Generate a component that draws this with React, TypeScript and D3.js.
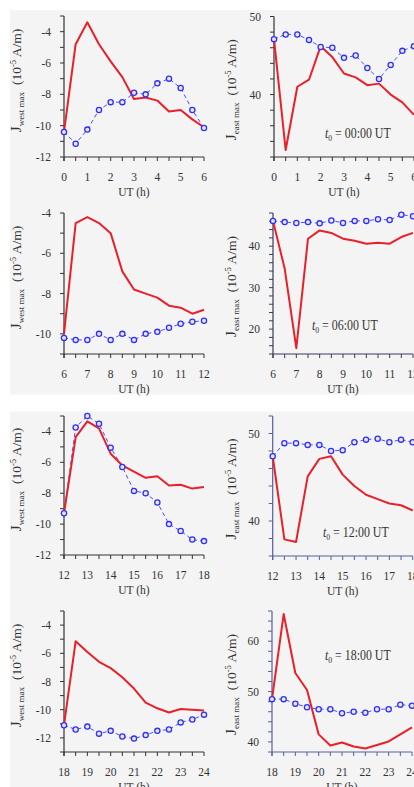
import React from "react";
import * as d3 from "d3";

// ---------- data ----------
const hours00 = [0, 0.5, 1, 1.5, 2, 2.5, 3, 3.5, 4, 4.5, 5, 5.5, 6];
const hours06 = [6, 6.5, 7, 7.5, 8, 8.5, 9, 9.5, 10, 10.5, 11, 11.5, 12];
const hours12 = [12, 12.5, 13, 13.5, 14, 14.5, 15, 15.5, 16, 16.5, 17, 17.5, 18];
const hours18 = [18, 18.5, 19, 19.5, 20, 20.5, 21, 21.5, 22, 22.5, 23, 23.5, 24];

const westRed00 = [-10.4, -4.8, -3.4, -4.8, -5.9, -6.9, -8.3, -8.2, -8.4, -9.1, -9.0, -9.6, -10.1];
const westBlue00 = [-10.4, -11.15, -10.25, -9.0, -8.5, -8.5, -7.9, -8.0, -7.3, -7.0, -7.6, -9.0, -10.15];
const eastRed00 = [47.1, 32.9, 41.0, 41.9, 46.2, 44.8, 42.7, 42.2, 41.2, 41.4, 40.0, 39.0, 37.4];
const eastBlue00 = [47.1, 47.7, 47.7, 47.0, 46.1, 46.0, 44.7, 45.0, 43.4, 42.0, 43.8, 45.6, 46.2];

const westRed06 = [-10.0, -4.5, -4.2, -4.5, -5.0, -6.9, -7.8, -8.0, -8.2, -8.6, -8.7, -9.0, -8.8];
const westBlue06 = [-10.2, -10.3, -10.3, -10.0, -10.3, -10.0, -10.3, -10.0, -9.9, -9.7, -9.5, -9.4, -9.35];
const eastRed06 = [46.1, 34.6, 15.4, 41.8, 43.8, 43.2, 41.8, 41.3, 40.6, 40.8, 40.6, 42.2, 43.2];
const eastBlue06 = [46.1, 45.8, 45.6, 45.8, 45.5, 46.2, 45.6, 46.1, 46.1, 46.5, 46.3, 47.6, 47.2];

const westRed12 = [-9.3, -4.37, -3.35, -3.8, -5.44, -6.2, -6.6, -7.0, -6.9, -7.5, -7.45, -7.7, -7.6];
const westBlue12 = [-9.3, -3.74, -3.0, -3.5, -5.05, -6.3, -7.85, -8.0, -8.6, -10.0, -10.45, -11.0, -11.1];
const eastRed12 = [47.4, 37.9, 37.6, 45.1, 47.1, 47.4, 45.3, 44.0, 43.0, 42.5, 42.0, 41.8, 41.2];
const eastBlue12 = [47.4, 48.9, 48.9, 48.7, 48.7, 48.0, 48.1, 49.0, 49.3, 49.4, 49.0, 49.3, 49.0];

const westRed18 = [-11.1, -5.14, -5.9, -6.6, -7.05, -7.7, -8.5, -9.5, -9.9, -10.2, -9.95, -10.0, -10.05];
const westBlue18 = [-11.1, -11.4, -11.2, -11.7, -11.5, -11.9, -12.05, -11.8, -11.5, -11.4, -10.9, -10.7, -10.35];
const eastRed18 = [48.5, 65.4, 53.7, 50.3, 41.5, 39.3, 39.9, 39.1, 38.7, 39.4, 40.1, 41.5, 42.9];
const eastBlue18 = [48.5, 48.5, 47.6, 46.9, 46.5, 46.5, 45.7, 46.0, 45.8, 46.5, 46.5, 47.4, 47.2];

const westTicksA = [-12, -10, -8, -6, -4];
const westTicksB = [-10, -8, -6, -4];
const eastTicks00 = [40, 50];
const eastTicks06 = [20, 30, 40];
const eastTicks12 = [40, 50];
const eastTicks18 = [40, 50, 60];

const annotations = ["00:00 UT", "06:00 UT", "12:00 UT", "18:00 UT"];

// ---------- styling ----------
const RED = "#e8202a";
const BLUE = "#2f2fff";
const TEXT = "#333";
const FONT = "'Liberation Serif', 'DejaVu Serif', serif";

type PanelProps = {
  left: number;
  top: number;
  bottom: number;
  xDomain: [number, number];
  yDomain: [number, number];
  majorTicks: number[];
  minorStep: number;
  hours: number[];
  red: number[];
  blue: number[];
  kind: "west" | "east";
  labelX: number;
  labelOffset: number;
  axisColor: string;
  annotation?: { text: string; x: number; y: number };
};

function Panel(p: PanelProps) {
  const width = 140;
  const x = d3.scaleLinear().domain(p.xDomain).range([p.left, p.left + width]);
  const y = d3.scaleLinear().domain(p.yDomain).range([p.bottom, p.top]);
  const line = d3
    .line<number>()
    .x((_, i) => x(p.hours[i]))
    .y((d) => y(d));
  const minor = d3.range(p.yDomain[0], p.yDomain[1] + 1e-6, p.minorStep);
  const xTicks = d3.range(p.xDomain[0], p.xDomain[1] + 1e-6, 0.5);
  const xLabels = d3.range(p.xDomain[0], p.xDomain[1] + 1e-6, 1);
  const cy = (p.top + p.bottom) / 2 + p.labelOffset;
  return (
    <g>
      {/* axes */}
      <line x1={p.left} x2={p.left} y1={p.top} y2={p.bottom + 4} stroke={p.axisColor} strokeWidth={1.2} />
      <line x1={p.left} x2={p.left + width} y1={p.bottom} y2={p.bottom} stroke={p.axisColor} strokeWidth={1.2} />
      {minor.map((v) => (
        <line key={"m" + v} x1={p.left - 4} x2={p.left} y1={y(v)} y2={y(v)} stroke={p.axisColor} strokeWidth={1} />
      ))}
      {xTicks.map((v) => (
        <line key={"xt" + v} x1={x(v)} x2={x(v)} y1={p.bottom} y2={p.bottom + 4} stroke={p.axisColor} strokeWidth={1} />
      ))}
      {p.majorTicks.map((v) => (
        <text
          key={"yl" + v}
          x={p.left - 13}
          y={y(v)}
          dy="0.35em"
          textAnchor="end"
          fontSize={11.5}
          fill={TEXT}
          fontFamily={FONT}
        >
          {v}
        </text>
      ))}
      {xLabels.map((v) => (
        <text
          key={"xl" + v}
          x={x(v)}
          y={p.bottom + 24}
          textAnchor="middle"
          fontSize={11.5}
          fill={TEXT}
          fontFamily={FONT}
        >
          {v}
        </text>
      ))}
      <text
        x={p.left + width / 2}
        y={p.bottom + 39}
        textAnchor="middle"
        fontSize={11.5}
        fill={TEXT}
        fontFamily={FONT}
      >
        UT (h)
      </text>
      <text
        transform={`translate(${p.labelX},${cy}) rotate(-90)`}
        textAnchor="middle"
        fill={TEXT}
        fontFamily={FONT}
        fontSize={13.5}
      >
        <tspan fontSize={15}>J</tspan>
        <tspan fontSize={9} dy={3}>
          {p.kind === "west" ? "west max" : "east max"}
        </tspan>
        <tspan dy={-3} dx={7}>
          (10
        </tspan>
        <tspan fontSize={8.5} dy={-5}>
          -5
        </tspan>
        <tspan dy={5}> A/m)</tspan>
      </text>
      {/* blue dashed series */}
      <path d={line(p.blue) || ""} fill="none" stroke={BLUE} strokeWidth={1} strokeDasharray="4 3" opacity={0.85} />
      {/* red series */}
      <path d={line(p.red) || ""} fill="none" stroke={RED} strokeWidth={2} strokeLinejoin="round" />
      {p.blue.map((v, i) => (
        <circle key={"c" + i} cx={x(p.hours[i])} cy={y(v)} r={2.6} fill="#e8e8ff" stroke={BLUE} strokeWidth={1.3} />
      ))}
      {p.annotation && (
        <text
          transform={`translate(${p.annotation.x},${p.annotation.y}) scale(0.85,1)`}
          fontSize={14}
          fill={TEXT}
          fontFamily={FONT}
        >
          <tspan fontStyle="italic">t</tspan>
          <tspan fontSize={9} dy={3}>
            0
          </tspan>
          <tspan dy={-3}>{" = " + p.annotation.text}</tspan>
        </text>
      )}
    </g>
  );
}

export default function App() {
  const panels: PanelProps[] = [
    {
      left: 64, top: 16, bottom: 157, xDomain: [0, 6], yDomain: [-12, -3], majorTicks: westTicksA, minorStep: 1,
      hours: hours00, red: westRed00, blue: westBlue00, kind: "west", labelX: 21, labelOffset: -6, axisColor: "#333",
    },
    {
      left: 274, top: 16.5, bottom: 157, xDomain: [0, 6], yDomain: [32, 50], majorTicks: eastTicks00, minorStep: 2,
      hours: hours00, red: eastRed00, blue: eastBlue00, kind: "east", labelX: 236, labelOffset: 3, axisColor: "#333",
      annotation: { text: annotations[0], x: 325, y: 138 },
    },
    {
      left: 64, top: 213, bottom: 354, xDomain: [6, 12], yDomain: [-11, -4], majorTicks: westTicksB, minorStep: 1,
      hours: hours06, red: westRed06, blue: westBlue06, kind: "west", labelX: 21, labelOffset: -6, axisColor: "#333",
    },
    {
      left: 273, top: 213, bottom: 354, xDomain: [6, 12], yDomain: [14, 48], majorTicks: eastTicks06, minorStep: 2,
      hours: hours06, red: eastRed06, blue: eastBlue06, kind: "east", labelX: 236, labelOffset: 3, axisColor: "#3a3d5a",
      annotation: { text: annotations[1], x: 312, y: 330 },
    },
    {
      left: 64, top: 416, bottom: 555, xDomain: [12, 18], yDomain: [-12, -3], majorTicks: westTicksA, minorStep: 1,
      hours: hours12, red: westRed12, blue: westBlue12, kind: "west", labelX: 21, labelOffset: -6, axisColor: "#333",
    },
    {
      left: 272.7, top: 416, bottom: 556, xDomain: [12, 18], yDomain: [36, 52], majorTicks: eastTicks12, minorStep: 2,
      hours: hours12, red: eastRed12, blue: eastBlue12, kind: "east", labelX: 236, labelOffset: 3, axisColor: "#55609a",
      annotation: { text: annotations[2], x: 323, y: 537 },
    },
    {
      left: 64, top: 611, bottom: 752, xDomain: [18, 24], yDomain: [-13, -3], majorTicks: westTicksA, minorStep: 1,
      hours: hours18, red: westRed18, blue: westBlue18, kind: "west", labelX: 21, labelOffset: -6, axisColor: "#333",
    },
    {
      left: 272, top: 611, bottom: 752, xDomain: [18, 24], yDomain: [38, 66], majorTicks: eastTicks18, minorStep: 2,
      hours: hours18, red: eastRed18, blue: eastBlue18, kind: "east", labelX: 236, labelOffset: 3, axisColor: "#55609a",
      annotation: { text: annotations[3], x: 325, y: 660 },
    },
  ];
  return (
    <svg
      width={414}
      height={787}
      style={{ position: "absolute", left: 0, top: 0, background: "#fff" }}
    >
      <rect x={10} y={10} width={404} height={384.5} fill="#f4f4f4" />
      <rect x={10} y={411.5} width={404} height={376} fill="#f4f4f4" />
      {panels.map((p, i) => (
        <Panel key={i} {...p} />
      ))}
    </svg>
  );
}
